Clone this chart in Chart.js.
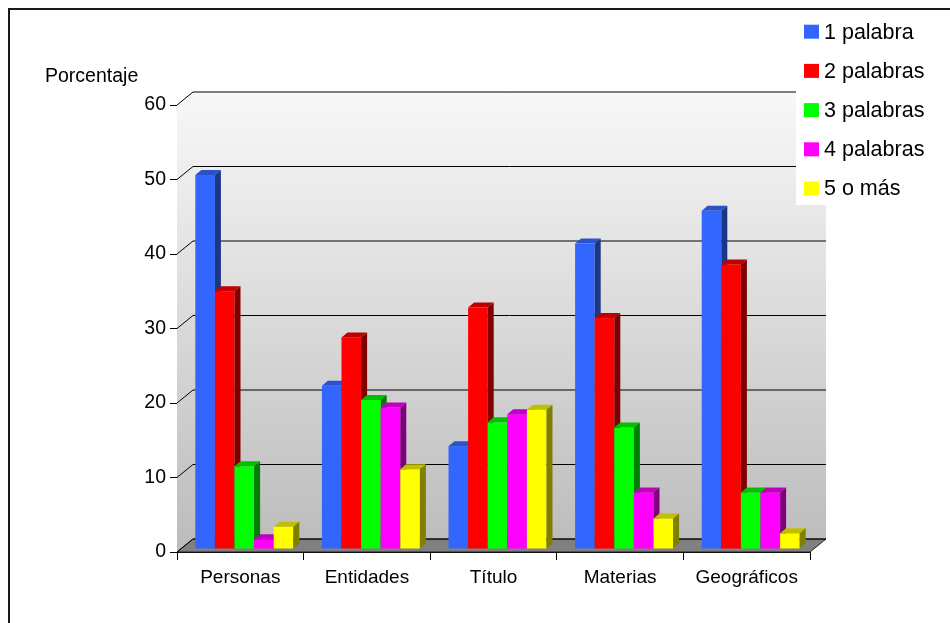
<!DOCTYPE html>
<html>
<head>
<meta charset="utf-8">
<script src="https://cdn.jsdelivr.net/npm/chart.js@4.4.0/dist/chart.umd.min.js"></script>
<style>
  html, body { margin: 0; padding: 0; background: #fff; }
  canvas { display: block; }
</style>
</head>
<body>
<canvas id="chart" width="950" height="623"></canvas>
<script>
const categories = ['Personas', 'Entidades', 'Título', 'Materias', 'Geográficos'];
const seriesNames = ['1 palabra', '2 palabras', '3 palabras', '4 palabras', '5 o más'];
const unaPalabra = [50.2, 21.9, 13.8, 41.0, 45.4];
const dosPalabras = [34.6, 28.4, 32.4, 31.0, 38.2];
const tresPalabras = [11.1, 20.0, 17.0, 16.3, 7.6];
const cuatroPalabras = [1.3, 19.0, 18.1, 7.6, 7.6];
const cincoOMas = [3.0, 10.7, 18.7, 4.1, 2.1];
const yTicks = [0, 10, 20, 30, 40, 50, 60];
const yTitle = 'Porcentaje';

// front, top and side shades per series
const faceColors = ['#3366ff', '#ff0000', '#00ff00', '#ff00ff', '#ffff00'];
const topColors = ['#2a52cc', '#c00000', '#00c000', '#c000c0', '#c0c000'];
const sideColors = ['#1c3686', '#800000', '#008000', '#800080', '#808000'];

const FONT = '"Liberation Sans", Arial, sans-serif';
const DEPTH_X = 16, DEPTH_Y = -13;   // offset of the back wall
const BAR_X = 4, BAR_Y = -3;         // bars stand a bit behind the front edge
const SIDE_X = 6, SIDE_Y = -5;       // depth of each bar

// walls, floor, gridlines and the 3d bars themselves
const box3d = {
  id: 'box3d',
  beforeDatasetsDraw(chart) {
    const ctx = chart.ctx;
    const { left, right, top, bottom } = chart.chartArea;
    const yScale = chart.scales.y;
    ctx.save();

    // back wall
    const g = ctx.createLinearGradient(0, top + DEPTH_Y, 0, bottom + DEPTH_Y);
    g.addColorStop(0, '#f8f8f8');
    g.addColorStop(1, '#bdbdbd');
    ctx.fillStyle = g;
    ctx.fillRect(left + DEPTH_X, top + DEPTH_Y, right - left, bottom - top);

    // left wall
    ctx.beginPath();
    ctx.moveTo(left, top);
    ctx.lineTo(left + DEPTH_X, top + DEPTH_Y);
    ctx.lineTo(left + DEPTH_X, bottom + DEPTH_Y);
    ctx.lineTo(left, bottom);
    ctx.closePath();
    ctx.fill();

    // floor
    ctx.beginPath();
    ctx.moveTo(left, bottom);
    ctx.lineTo(right, bottom);
    ctx.lineTo(right + DEPTH_X, bottom + DEPTH_Y);
    ctx.lineTo(left + DEPTH_X, bottom + DEPTH_Y);
    ctx.closePath();
    ctx.fillStyle = '#808080';
    ctx.fill();
    ctx.strokeStyle = '#222';
    ctx.lineWidth = 1;
    ctx.stroke();

    // gridlines run across the left wall and the back wall
    ctx.strokeStyle = '#000';
    yTicks.forEach(v => {
      const py = yScale.getPixelForValue(v);
      ctx.beginPath();
      ctx.moveTo(left, py);
      ctx.lineTo(left + DEPTH_X, py + DEPTH_Y);
      ctx.lineTo(right + DEPTH_X, py + DEPTH_Y);
      ctx.stroke();
    });

    // bars, left to right so each one hides the side of the one before
    const n = chart.data.datasets.length;
    for (let j = 0; j < categories.length; j++) {
      for (let i = 0; i < n; i++) {
        const bar = chart.getDatasetMeta(i).data[j];
        const x0 = bar.x - bar.width / 2 + BAR_X;
        const x1 = bar.x + bar.width / 2 + BAR_X;
        const y0 = bar.y + BAR_Y;
        const y1 = bar.base + BAR_Y;

        ctx.fillStyle = faceColors[i];
        ctx.fillRect(x0, y0, x1 - x0, y1 - y0);

        ctx.fillStyle = topColors[i];
        ctx.beginPath();
        ctx.moveTo(x0, y0);
        ctx.lineTo(x0 + SIDE_X, y0 + SIDE_Y);
        ctx.lineTo(x1 + SIDE_X, y0 + SIDE_Y);
        ctx.lineTo(x1, y0);
        ctx.closePath();
        ctx.fill();

        ctx.fillStyle = sideColors[i];
        ctx.beginPath();
        ctx.moveTo(x1, y0);
        ctx.lineTo(x1 + SIDE_X, y0 + SIDE_Y);
        ctx.lineTo(x1 + SIDE_X, y1 + SIDE_Y);
        ctx.lineTo(x1, y1);
        ctx.closePath();
        ctx.fill();
      }
    }
    ctx.restore();
    return false;
  },
  afterDraw(chart) {
    const ctx = chart.ctx;
    ctx.save();

    // legend panel over the top right corner
    ctx.fillStyle = '#fff';
    ctx.fillRect(796, 10, 154, 195);
    ctx.font = '21.5px ' + FONT;
    ctx.textBaseline = 'middle';
    ctx.textAlign = 'left';
    chart.data.datasets.forEach((ds, i) => {
      const cy = 31.7 + i * 39.2;
      ctx.fillStyle = faceColors[i];
      ctx.fillRect(804, cy - 7, 15, 14);
      ctx.fillStyle = '#000';
      ctx.fillText(ds.label, 824, cy + 1);
    });

    // axis caption
    ctx.font = '19.5px ' + FONT;
    ctx.fillStyle = '#000';
    ctx.fillText(yTitle, 45, 77);

    // frame
    ctx.fillStyle = '#1a1a1a';
    ctx.fillRect(8, 8, 942, 2);
    ctx.fillRect(8, 8, 2, 615);
    ctx.restore();
  }
};

const datasets = [unaPalabra, dosPalabras, tresPalabras, cuatroPalabras, cincoOMas].map((data, i) => ({
  label: seriesNames[i],
  data: data,
  backgroundColor: faceColors[i],
  categoryPercentage: 0.774,
  barPercentage: 1.0
}));

new Chart(document.getElementById('chart'), {
  type: 'bar',
  data: { labels: categories, datasets: datasets },
  options: {
    responsive: false,
    animation: false,
    devicePixelRatio: 1,
    layout: { padding: { top: 105, right: 140, left: 0, bottom: 0 } },
    plugins: {
      legend: { display: false },
      tooltip: { enabled: false }
    },
    scales: {
      x: {
        z: 1,
        grid: { drawOnChartArea: false, drawTicks: true, tickLength: 8, color: '#000', offset: true },
        border: { color: '#000', width: 1 },
        ticks: { color: '#000', font: { family: FONT, size: 19 }, padding: 6, maxRotation: 0 },
        afterFit(scale) { scale.height = 71; }
      },
      y: {
        z: 1,
        min: 0,
        max: 60,
        grid: { drawOnChartArea: false, drawTicks: true, tickLength: 7, color: '#000' },
        border: { color: '#000', width: 1 },
        ticks: {
          stepSize: 10,
          color: '#000',
          font: { family: FONT, size: 19.5 },
          padding: 4,
          callback: v => yTicks.includes(v) ? String(v) : ''
        },
        afterFit(scale) { scale.width = 177; }
      }
    }
  },
  plugins: [box3d]
});
</script>
</body>
</html>
